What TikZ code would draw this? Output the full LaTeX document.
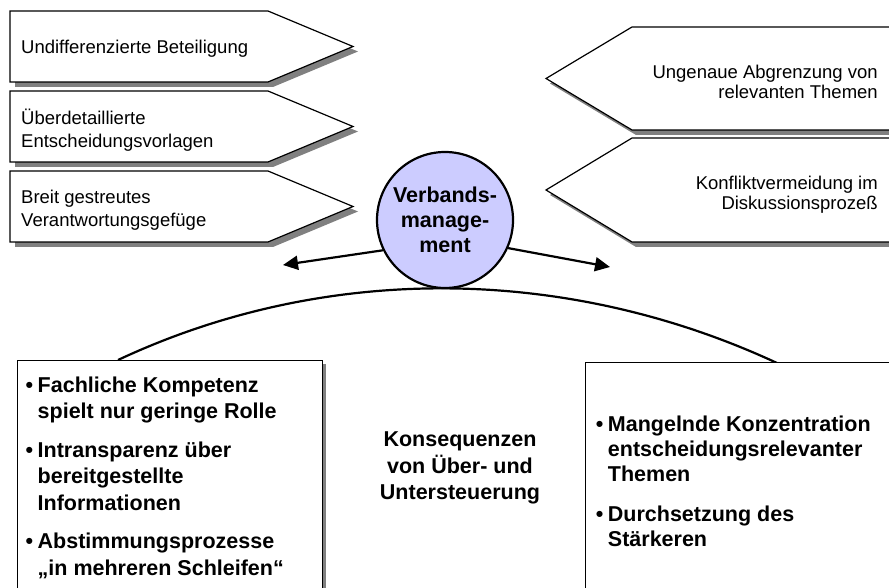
\documentclass[tikz,border=0pt]{standalone}
\usepackage{fontspec}
\setmainfont{Liberation Sans}
\usetikzlibrary{arrows.meta, positioning}
\definecolor{shadowgray}{HTML}{808080}
\definecolor{lavender}{HTML}{CCCCFF}

\begin{document}
\begin{tikzpicture}[
    x=1pt, y=-1pt,
    outline/.style={draw=black, line width=1.2pt, fill=white},
    shade/.style={fill=shadowgray},
    plain/.style={font=\fontsize{18.5}{23}\selectfont, inner sep=0pt, align=left},
    bold/.style={font=\fontsize{21.5}{26.5}\selectfont\bfseries, inner sep=0pt},
    flow/.style={line width=2.2pt, -{Triangle[length=15pt, width=14pt]}}
]
    \useasboundingbox (0,0) rectangle (889,588);

    % Arc over the two boxes
    \coordinate (arcL) at (118,360);
    \coordinate (arcR) at (777,363);
    \draw[line width=2.2pt] (arcL) .. controls (327,262) and (568,266) .. (arcR);

    % Left arrows (pointing right)
    \foreach \t/\b in {11/82, 91/162, 171/242} {
        \fill[shade] (15,\t+5) -- (273,\t+5) -- (358,{(\t+\b)/2+5}) -- (273,\b+5) -- (15,\b+5) -- cycle;
        \draw[outline] (10,\t) -- (268,\t) -- (353,{(\t+\b)/2}) -- (268,\b) -- (10,\b) -- cycle;
    }
    \node (beteil) [plain, anchor=west] at (21,49) {Undifferenzierte Beteiligung};
    \node (vorlagen) [plain, anchor=west] at (21,130) {Überdetaillierte\\Entscheidungsvorlagen};
    \node (gefuege) [plain, anchor=west] at (21,210) {Breit gestreutes\\Verantwortungsgefüge};

    % Right arrows (pointing left)
    \foreach \t/\b in {27/130, 138/242} {
        \fill[shade] (895,\t+5) -- (636,\t+5) -- (550,{(\t+\b)/2+5}) -- (636,\b+5) -- (895,\b+5) -- cycle;
        \draw[outline] (895,\t) -- (632,\t) -- (546,{(\t+\b)/2}) -- (632,\b) -- (895,\b) -- cycle;
    }
    \node (abgrenz) [plain, align=right, anchor=east, font=\fontsize{18.5}{20}\selectfont] at (878,82) {Ungenaue Abgrenzung von\\relevanten Themen};
    \node (konflikt) [plain, align=right, anchor=east, font=\fontsize{18.5}{20}\selectfont] at (878,195) {Konfliktvermeidung im\\Diskussionsprozeß};

    % Centre circle
    \node (verband) [circle, draw, line width=2.2pt, fill=lavender, minimum size=136pt, bold, font=\fontsize{21.5}{25}\selectfont\bfseries, align=center, text depth=-3pt] at (445,220) {Verbands-\\manage-\\ment};
    \coordinate (lend) at (283,265);
    \coordinate (rend) at (610,267);
    \draw[flow] (verband.206) -- (lend);
    \draw[flow] (verband.336) -- (rend);

    % Bottom boxes
    \fill[shade] (21,364) rectangle (326,600);
    \node (lbox) [outline, anchor=north west, minimum width=305pt, minimum height=240pt, inner sep=0pt] at (17,360) {};
    \node (rbox) [outline, anchor=north west, minimum width=320pt, minimum height=240pt, inner sep=0pt] at (585,362) {};

    \node (lefttext) [bold, anchor=base west] at (25.5,392) {\begin{tabular}[t]{@{}l@{\hspace{4.5pt}}l@{}}
        \textbullet & Fachliche Kompetenz\\
                    & spielt nur geringe Rolle\\[12pt]
        \textbullet & Intransparenz über\\
                    & bereitgestellte\\
                    & Informationen\\[12pt]
        \textbullet & Abstimmungsprozesse\\
                    & „in mehreren Schleifen“
    \end{tabular}};

    \node (righttext) [bold, font=\fontsize{21.5}{25}\selectfont\bfseries, anchor=base west] at (595.7,431) {\begin{tabular}[t]{@{}l@{\hspace{4.5pt}}l@{}}
        \textbullet & Mangelnde Konzentration\\
                    & entscheidungsrelevanter\\
                    & Themen\\[15pt]
        \textbullet & Durchsetzung des\\
                    & Stärkeren
    \end{tabular}};

    \node (konseq) [bold, align=center] at (460,468) {Konsequenzen\\von Über- und\\Untersteuerung};

\end{tikzpicture}
\end{document}
